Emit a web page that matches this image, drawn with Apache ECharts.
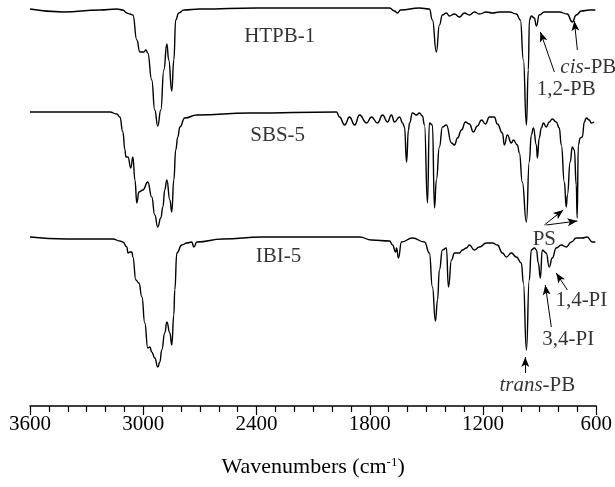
<!DOCTYPE html>
<html>
<head>
<meta charset="utf-8">
<script src="https://cdn.jsdelivr.net/npm/echarts@6/dist/echarts.min.js"></script>
<style>
  html, body { margin: 0; padding: 0; background: #fff; }
  #chart { width: 615px; height: 487px; }
</style>
</head>
<body>
<div id="chart"></div>
<script>
// FTIR spectra, stacked. y is an offset absorbance-like scale (grows downward).
const htpbWn = [3600, 3425, 3230, 3140, 3108, 3087, 3071, 3055, 3034, 3018, 2997, 2986, 2976, 2955, 2939, 2923, 2907, 2891, 2875, 2865, 2849, 2838, 2828, 2812, 2785, 2700, 2400, 1960, 1695, 1669, 1653, 1637, 1537, 1484, 1468, 1447, 1431, 1415, 1394, 1378, 1351, 1325, 1298, 1272, 1245, 1219, 1182, 1150, 1113, 1060, 1023, 1002, 986, 970, 960, 954, 944, 928, 917, 902, 875, 796, 754, 727, 706, 679, 637, 605]
const htpbVal = [9, 12, 10, 9, 10, 13, 14, 15, 40, 52, 52, 50, 53, 80, 110, 126, 110, 70, 44, 60, 91, 60, 20, 13, 10, 9, 8, 8, 8, 11, 13, 10, 8, 9, 20, 52, 25, 15, 13, 16, 14, 17, 13, 15, 12, 14, 12, 13, 12, 12, 14, 20, 60, 125, 70, 20, 16, 18, 26, 15, 12, 12, 14, 22, 15, 11, 10, 10]

const sbsWn = [3600, 3441, 3177, 3140, 3124, 3108, 3097, 3092, 3081, 3066, 3055, 3044, 3034, 3023, 3002, 2976, 2955, 2939, 2923, 2907, 2896, 2886, 2875, 2859, 2849, 2838, 2828, 2817, 2806, 2780, 2716, 2436, 1976, 1960, 1933, 1907, 1880, 1854, 1817, 1791, 1759, 1732, 1706, 1685, 1669, 1642, 1626, 1616, 1605, 1595, 1589, 1574, 1552, 1537, 1521, 1510, 1494, 1484, 1468, 1457, 1447, 1431, 1415, 1394, 1367, 1351, 1335, 1314, 1293, 1272, 1251, 1230, 1208, 1187, 1166, 1140, 1124, 1097, 1087, 1071, 1050, 1039, 1018, 1007, 992, 970, 955, 944, 933, 917, 912, 902, 891, 880, 865, 849, 833, 812, 796, 785, 769, 759, 753, 738, 727, 716, 706, 701, 695, 685, 674, 663, 653, 637, 626, 611]
const sbsVal = [112, 112, 112, 114, 117, 132, 150, 157, 157, 168, 157, 180, 203, 192, 190, 182, 197, 215, 227, 218, 207, 190, 180, 200, 212, 180, 150, 137, 127, 118, 115, 113, 112, 117, 125, 117, 125, 115, 123, 117, 123, 115, 122, 115, 122, 117, 123, 127, 162, 130, 123, 113, 115, 113, 116, 125, 203, 123, 125, 208, 180, 147, 127, 125, 143, 145, 138, 130, 122, 124, 132, 126, 120, 124, 117, 117, 124, 133, 145, 135, 143, 140, 145, 153, 182, 222, 162, 135, 128, 145, 158, 138, 128, 123, 127, 122, 119, 122, 128, 145, 182, 207, 195, 162, 147, 150, 185, 218, 145, 138, 137, 122, 118, 120, 123, 122]

const ibiWn = [3600, 3404, 3161, 3124, 3108, 3087, 3081, 3071, 3060, 3055, 3039, 3023, 3007, 2992, 2976, 2965, 2955, 2939, 2923, 2912, 2902, 2886, 2875, 2859, 2849, 2838, 2833, 2822, 2796, 2769, 2743, 2732, 2716, 2579, 2367, 1976, 1854, 1791, 1695, 1679, 1663, 1658, 1648, 1632, 1574, 1510, 1484, 1468, 1452, 1441, 1431, 1415, 1394, 1383, 1367, 1351, 1325, 1309, 1288, 1272, 1246, 1219, 1182, 1150, 1124, 1097, 1076, 1050, 1023, 997, 986, 970, 955, 944, 928, 917, 907, 896, 886, 865, 849, 833, 812, 785, 759, 732, 706, 674, 648, 621, 605]
const ibiVal = [237, 239, 239, 241, 242, 247, 253, 252, 252, 257, 280, 283, 297, 323, 348, 347, 352, 358, 367, 362, 350, 333, 322, 333, 345, 315, 290, 253, 245, 243, 242, 247, 242, 239, 237, 237, 237, 240, 241, 245, 252, 248, 258, 242, 238, 242, 253, 287, 321, 300, 270, 250, 248, 287, 260, 253, 253, 250, 248, 245, 250, 247, 243, 243, 245, 253, 257, 253, 257, 263, 283, 350, 280, 250, 248, 250, 263, 278, 250, 253, 267, 258, 248, 245, 247, 242, 238, 238, 237, 242, 242]

// annotations: text, anchor wavenumber, anchor value
const annoText = ['HTPB-1', 'SBS-5', 'IBI-5', '{i|cis}-PB', '1,2-PB', 'PS', '1,4-PI', '3,4-PI', '{i|trans}-PB']
const annoWn = [2277, 2288, 2283, 642, 759, 875, 679, 748, 912]
const annoVal = [36, 135, 256, 67, 89, 239, 300, 339, 385]

// arrows: [fromWn, fromVal, toWn, toVal]
const arrows = [
  [822, 72, 896, 32],
  [700, 50, 716, 21],
  [875, 225, 775, 210],
  [865, 225, 700, 221],
  [753, 290, 812, 273],
  [838, 327, 870, 285],
  [976, 373, 976, 357]
]

const serif = '"Liberation Serif", "DejaVu Serif", serif'

function zip(xs, ys) {
  return xs.map((x, i) => [x, ys[i]])
}

function spectrum(name, xs, ys) {
  return {
    name: name,
    type: 'line',
    data: zip(xs, ys),
    showSymbol: false,
    smooth: 0.5,
    smoothMonotone: 'x',
    lineStyle: { color: '#000', width: 1.4 },
    animation: false,
    silent: true
  }
}

const chart = echarts.init(document.getElementById('chart'))

const option = {
  backgroundColor: '#fff',
  grid: { left: 30, right: 18, top: 0, bottom: 81 },
  xAxis: {
    type: 'value',
    inverse: true,
    min: 600,
    max: 3600,
    interval: 600,
    axisLine: { show: true, onZero: false, lineStyle: { color: '#000', width: 1.5 } },
    axisTick: { show: true, inside: false, length: 9, lineStyle: { color: '#000', width: 1.2 } },
    minorTick: { show: true, splitNumber: 6, length: 6, lineStyle: { color: '#000', width: 1.2 } },
    splitLine: { show: false },
    axisLabel: {
      color: '#000', fontSize: 21, fontFamily: serif, margin: 8,
      formatter: (v) => String(v)
    },
    name: 'Wavenumbers (cm{sup|-1})',
    nameLocation: 'middle',
    nameGap: 50,
    nameTextStyle: {
      color: '#000', fontSize: 22, fontFamily: serif,
      rich: {
        sup: { fontSize: 13, fontFamily: serif, color: '#000', verticalAlign: 'top', lineHeight: 13 }
      }
    }
  },
  yAxis: {
    type: 'value',
    inverse: true,
    min: 0,
    max: 406,
    show: false
  },
  series: [
    spectrum('HTPB-1', htpbWn, htpbVal),
    spectrum('SBS-5', sbsWn, sbsVal),
    spectrum('IBI-5', ibiWn, ibiVal),
    {
      name: 'labels',
      type: 'scatter',
      symbolSize: 0,
      animation: false,
      silent: true,
      data: annoText.map((t, i) => ({ value: [annoWn[i], annoVal[i]], name: t })),
      label: {
        show: true,
        position: 'inside',
        formatter: (p) => p.name,
        color: '#000',
        fontSize: 21,
        fontFamily: serif,
        rich: {
          i: { fontStyle: 'italic', fontSize: 21, fontFamily: serif, color: '#000' }
        }
      },
      markLine: {
        silent: true,
        animation: false,
        symbol: ['none', 'arrow'],
        symbolSize: [6, 10],
        label: { show: false },
        lineStyle: { color: '#000', width: 1, type: 'solid' },
        data: arrows.map((a) => [{ coord: [a[0], a[1]] }, { coord: [a[2], a[3]] }])
      }
    }
  ]
}

chart.setOption(option)
</script>
</body>
</html>
